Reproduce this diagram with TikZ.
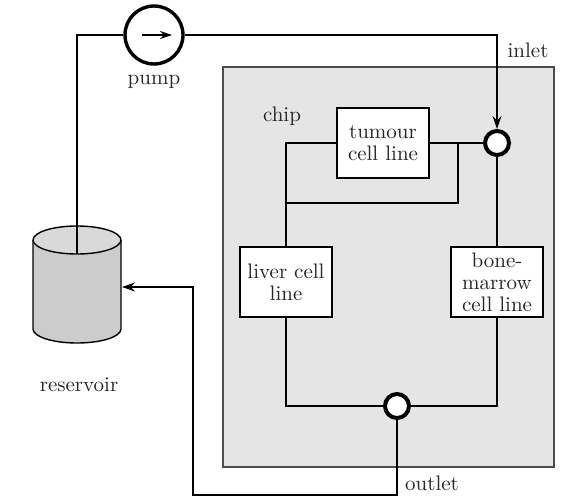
\documentclass[tikz,border=0pt]{standalone}
\usepackage{tikz}
\usetikzlibrary{arrows.meta}

\begin{document}
\begin{tikzpicture}[
  x=0.5pt, y=-0.5pt,
  every node/.style={font=\fontsize{10.5}{11}\selectfont, text=black!85},
  cellbox/.style={draw, fill=white, line width=0.7pt, minimum width=46pt,
    minimum height=35pt, align=center, inner sep=1pt},
  port/.style={circle, draw, fill=white, line width=2pt, minimum size=12pt, inner sep=0pt},
  pipe/.style={draw, line width=1pt},
  >={Stealth[length=6.5pt,width=4.5pt]}
]
\useasboundingbox (0,0) rectangle (566,498);

% chip
\node[draw=black!70, fill=gray!20, line width=0.6pt, minimum width=165.5pt,
  minimum height=200pt, inner sep=0pt] (chip) at (388.5,267) {};
\node at (282,116) {chip};

% reservoir
\fill[gray!40] (33,240) -- (33,329) arc[start angle=180, end angle=0, x radius=44, y radius=14]
  -- (121,240) -- cycle;
\draw[line width=0.7pt, fill=gray!30] (77,240) ellipse[x radius=44, y radius=14];
\draw[line width=0.7pt] (33,240) -- (33,329) arc[start angle=180, end angle=0, x radius=44, y radius=14]
  -- (121,240);
\node at (79,385) {reservoir};
\coordinate (restop) at (77,254);
\coordinate (resin) at (122,287);

% pump
\node[circle, draw, fill=white, line width=1.7pt, minimum size=29pt, inner sep=0pt] (pump) at (154,35) {};
\draw[line width=0.6pt, -{Stealth[length=6pt,width=4pt]}] ([xshift=-6pt]pump.center) -- ([xshift=9pt]pump.center);
\node at (154,82) {pump};

% cell lines and ports
\node[cellbox] (tumour) at (383,143) {tumour\\cell line};
\node[cellbox] (liver) at (286,282) {liver cell\\line};
\node[cellbox] (marrow) at (497,282) {bone-\\marrow\\cell line};
\node[port] (inlet) at (497,143) {};
\node[port] (outlet) at (397,406) {};
\node at (528,50) {inlet};
\node at (432,483) {outlet};

\coordinate (j1) at (458,143);
\coordinate (j2) at (286,203);
\coordinate (bend) at (193,495);

% tubing
\draw[pipe] (restop) |- (pump.west);
\draw[pipe,->] (pump.east) -| (inlet.north);
\draw[pipe] (tumour.east) -- (inlet.west);
\draw[pipe] (tumour.west) -| (liver.north);
\draw[pipe] (j1) |- (j2);
\draw[pipe] (liver.south) |- (outlet.west);
\draw[pipe] (outlet.east) -| (marrow.south);
\draw[pipe] (marrow.north) -- (inlet.south);
\draw[pipe,->] (outlet.south) |- (bend) |- (resin);

\end{tikzpicture}
\end{document}
